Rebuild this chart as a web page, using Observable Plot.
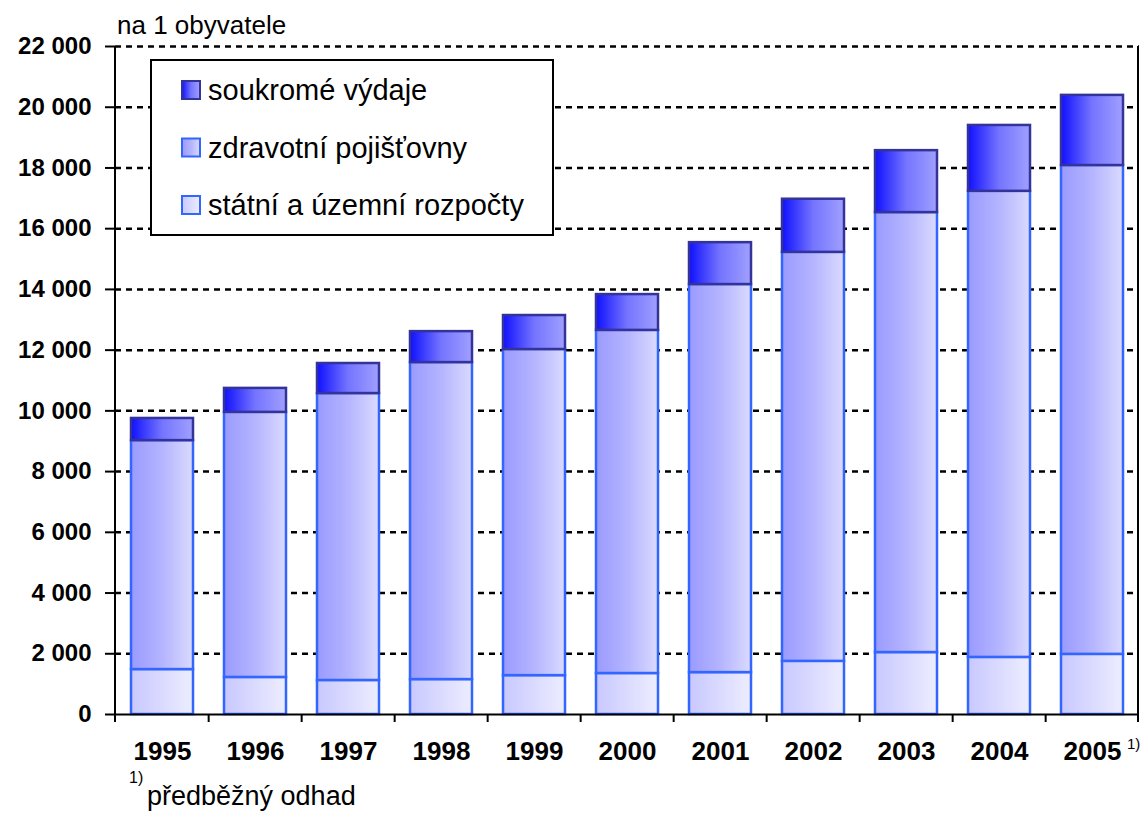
<!DOCTYPE html>
<html><head><meta charset="utf-8">
<script src="https://cdn.jsdelivr.net/npm/d3@7"></script>
<script src="https://cdn.jsdelivr.net/npm/@observablehq/plot@0.6"></script>
<style>
body{margin:0;background:#fff;}
svg{font-family:Arial,"Liberation Sans",sans-serif;}
</style>
</head><body><div id="chart"></div>
<script>
const years = ["1995","1996","1997","1998","1999","2000","2001","2002","2003","2004","2005"];
const statni = [1480,1220,1120,1150,1280,1350,1380,1750,2040,1880,1980];
const pojistovny = [7540,8730,9450,10440,10740,11300,12780,13470,14490,15350,16100];
const soukrome = [730,790,990,1020,1120,1180,1380,1750,2040,2170,2310];
const seriesNames = ["státní a územní rozpočty","zdravotní pojišťovny","soukromé výdaje"];
const legendOrder = ["soukromé výdaje","zdravotní pojišťovny","státní a územní rozpočty"];
const yTicks = [0,2000,4000,6000,8000,10000,12000,14000,16000,18000,20000,22000];

const gradIds = {"státní a územní rozpočty":"gStat","zdravotní pojišťovny":"gPoj","soukromé výdaje":"gSouk"};
const strokes = {"státní a územní rozpočty":"#3366ff","zdravotní pojišťovny":"#3366ff","soukromé výdaje":"#333399"};

const data = [];
years.forEach((y,i)=>{
  data.push({year:y, series:seriesNames[0], value:statni[i]});
  data.push({year:y, series:seriesNames[1], value:pojistovny[i]});
  data.push({year:y, series:seriesNames[2], value:soukrome[i]});
});

const W = 1143, H = 814, mL = 115, mR = 4, mT = 46, mB = 100;
const fmt = d => d3.format(",")(d).replace(/,/g, " ");

const plot = Plot.plot({
  width: W, height: H,
  marginLeft: mL, marginRight: mR, marginTop: mT, marginBottom: mB,
  x: {domain: years, paddingInner: 0.33, paddingOuter: 0.165, label: null},
  y: {domain: [0, 22000], label: null},
  marks: [
    Plot.ruleY(yTicks.filter(d => d > 0), {stroke: "#000", strokeWidth: 2.5, strokeDasharray: "6,5"}),
    Plot.barY(data, Plot.stackY({
      x: "year", y: "value", order: null,
      fill: d => `url(#${gradIds[d.series]})`,
      stroke: d => strokes[d.series],
      strokeWidth: 2.5
    })),
    Plot.axisY({ticks: yTicks, tickFormat: fmt, tickSize: 10, tickPadding: 14, fontSize: 24, fontWeight: "bold", stroke: "#000", strokeWidth: 2, fill: "#000"}),
    Plot.axisX({tickSize: 0, tickPadding: 27, fontSize: 26, fontWeight: "bold", fill: "#000"}),
    Plot.ruleY([0], {stroke: "#000", strokeWidth: 2})
  ]
});

const svg = d3.select(plot);
const defs = svg.insert("defs", ":first-child");
function grad(id, stops){
  const g = defs.append("linearGradient").attr("id", id).attr("x1","0").attr("x2","1").attr("y1","0").attr("y2","0");
  stops.forEach(([o,c]) => g.append("stop").attr("offset", o).attr("stop-color", c));
}
grad("gSouk", [[0,"#1010ff"],[0.5,"#7474ff"],[1,"#a0a0ff"]]);
grad("gPoj", [[0,"#9a9aff"],[0.5,"#b4b4ff"],[1,"#dadaff"]]);
grad("gStat", [[0,"#c8c8ff"],[1,"#ededff"]]);

const xs = plot.scale("x");
const step = xs.step;
const x0 = mL, x1 = W - mR, yb = H - mB;
// frame lines
svg.append("line").attr("x1", x0).attr("x2", x0).attr("y1", mT).attr("y2", yb + 8).attr("stroke","#000").attr("stroke-width",2);
svg.append("line").attr("x1", x1 - 1).attr("x2", x1 - 1).attr("y1", mT).attr("y2", yb + 8).attr("stroke","#000").attr("stroke-width",2);
// x category boundary ticks
years.forEach((y,i) => {
  if (i === 0) return;
  const xx = xs.apply(y) - step * xs.paddingInner / 2;
  svg.append("line").attr("x1", xx).attr("x2", xx).attr("y1", yb).attr("y2", yb + 8).attr("stroke","#000").attr("stroke-width",2);
});
const T = (x, y, size, s) => svg.append("text").attr("x", x).attr("y", y).attr("font-size", size)
  .attr("text-anchor", "start").attr("fill", "#000").text(s);
// superscript on 2005
const x2005 = xs.apply("2005") + xs.bandwidth / 2;
T(x2005 + 35, 749, 15, "1)");

// title
T(117, 34, 26, "na 1 obyvatele");
// footnote
T(129, 783, 16, "1)");
T(147, 805, 27, "předběžný odhad");

// legend
const lg = svg.append("g");
lg.append("rect").attr("x", 151).attr("y", 60).attr("width", 402).attr("height", 175).attr("fill","#fff").attr("stroke","#000").attr("stroke-width",2);
legendOrder.forEach((s,i) => {
  const cy = 90 + i * 57.5;
  lg.append("rect").attr("x", 182).attr("y", cy - 9).attr("width", 18).attr("height", 18)
    .attr("fill", `url(#${gradIds[s]})`).attr("stroke", strokes[s]).attr("stroke-width", 2);
  lg.append("text").attr("x", 208).attr("y", cy + 10).attr("font-size", 29).attr("text-anchor", "start").attr("fill", "#000").text(s);
});

document.getElementById("chart").appendChild(plot);
</script>
</body></html>
